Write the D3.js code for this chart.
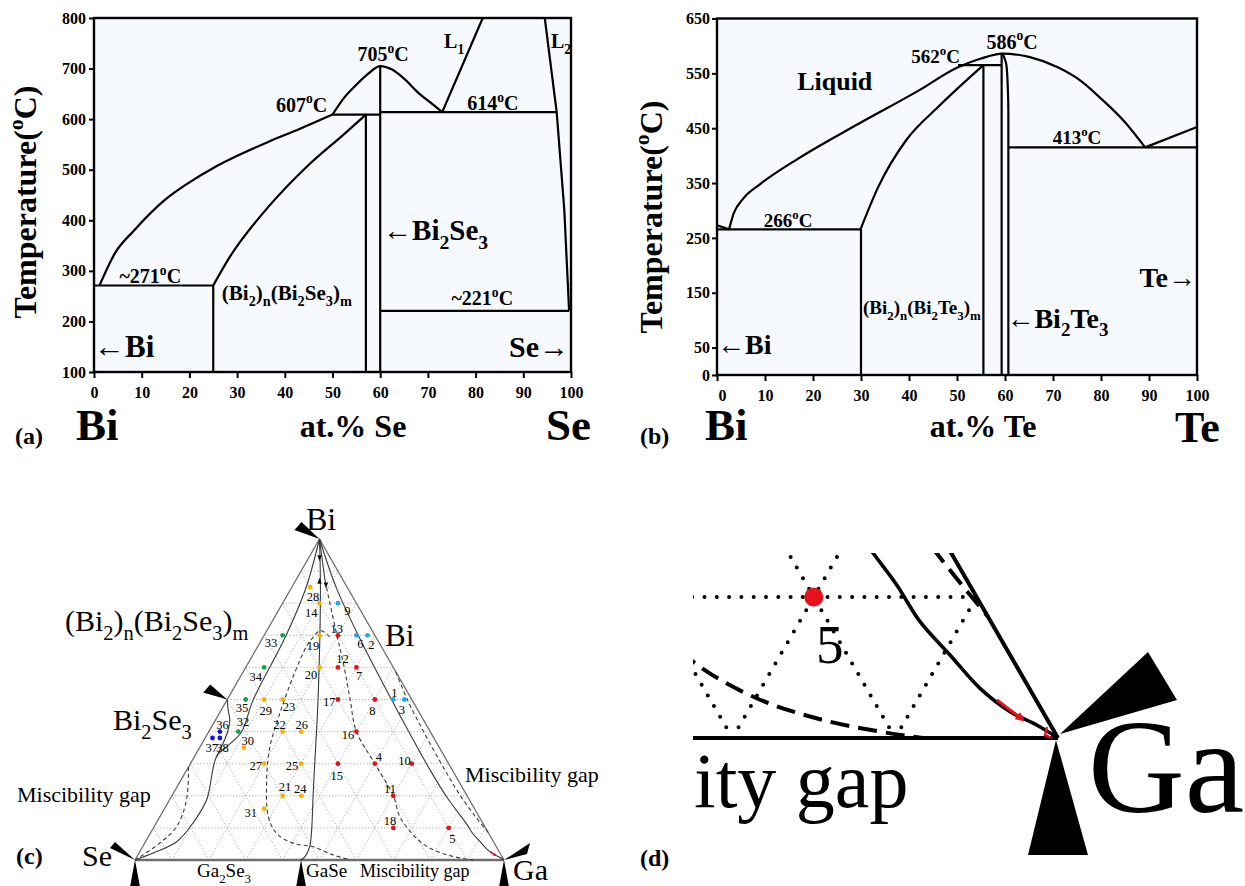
<!DOCTYPE html>
<html lang="en">
<head>
<meta charset="UTF-8">
<title>Bi–Se, Bi–Te phase diagrams and Bi–Se–Ga ternary</title>
<script src="https://d3js.org/d3.v7.min.js"></script>
<style>
  body { margin: 0; background: #fff; }
  svg text { font-family: "Liberation Serif", "Times New Roman", serif; fill: #000; }
</style>
</head>
<body>
<svg id="fig" width="1245" height="886"></svg>
<script>
// ---------- (a) Bi–Se binary: [at.% Se, T °C] ----------
const compTicks = d3.range(0, 101, 10);
const tempTicksA = [100, 200, 300, 400, 500, 600, 700, 800];

const biSeLiquidus = [[1.2, 272], [4.4, 335], [8.4, 380], [14.8, 440], [20, 475], [25.3, 505], [30.6, 530], [36.5, 555], [43.2, 581], [50, 609]];
const biSeSolvus = [[25, 271], [28.5, 328], [36.5, 426], [44.5, 505], [52.5, 571], [57, 609]];
const biSeDome = [[50, 609], [52.5, 643], [55, 668], [57.5, 690], [60, 705], [62.5, 698], [65, 680], [68, 652], [70.5, 633], [73, 614]];
const biSeL1 = [[73, 614], [81.5, 800]];
const biSeL2 = [[94.5, 800], [97, 614], [98.6, 420], [99.6, 221]];
const biSeLines = [
  [[0, 271], [25, 271]],
  [[25, 100], [25, 271]],
  [[57, 100], [57, 609]],
  [[60, 100], [60, 705]],
  [[50, 609], [60, 609]],
  [[60, 614], [97, 614]],
  [[60, 221], [99.6, 221]]
];

// ---------- (b) Bi–Te binary: [at.% Te, T °C] ----------
const tempTicksB = [0, 50, 150, 250, 350, 450, 550, 650];

const biTeLiquidus = [[2.5, 265.5], [3.5, 295], [5.5, 322], [9, 348], [17, 395], [29.5, 458], [41.9, 518], [50.2, 561],
  [55, 577], [59.5, 586], [65, 580], [71, 561], [76, 535], [80, 504], [85, 461], [89.2, 415]];
const biTeLiquidusTe = [[89.2, 415], [100, 452]];
const biTeLiquidusBi = [[0, 273], [2.5, 265.5]];
const biTeSolvus = [[29.9, 265.5], [33.6, 343], [39.4, 428], [46.1, 489], [55.5, 565]];
const bi2Te3Right = [[59.5, 586], [60.3, 565], [60.6, 520], [60.7, 480], [60.7, 0]];
const biTeLines = [
  [[0, 265.5], [30, 265.5]],
  [[30, 0], [30, 265.5]],
  [[55.5, 0], [55.5, 565]],
  [[50.2, 565], [59.3, 565]],
  [[59.3, 0], [59.3, 586]],
  [[60.7, 415], [100, 415]]
];

// ---------- (c)/(d) Bi–Se–Ga ternary: [Bi, Se, Ga] at.% ----------
const sampleIds = ["1", "2", "3", "4", "5", "6", "7", "8", "9", "10", "11", "12", "13", "14", "15", "16", "17", "18", "19",
  "20", "21", "22", "23", "24", "25", "26", "27", "28", "29", "30", "31", "32", "33", "34", "35", "36", "37", "38"];
const sampleComp = [
  [50, 5, 45], [70, 2, 28], [50, 2, 48], [30, 20, 50], [10, 10, 80], [70, 5, 25], [60, 10, 30], [50, 10, 40], [80, 5, 15], [30, 10, 60],
  [20, 20, 60], [60, 15, 25], [70, 10, 20], [80, 10, 10], [30, 30, 40], [40, 20, 40], [50, 20, 30], [10, 25, 65], [70, 15, 15], [60, 20, 20],
  [20, 50, 30], [40, 40, 20], [50, 35, 15], [20, 45, 35], [30, 40, 30], [40, 35, 25], [30, 50, 20], [85, 10, 5], [50, 40, 10], [35, 53, 12],
  [16, 57, 27], [40, 52, 8], [70, 25, 5], [60, 35, 5], [50, 45, 5], [40, 57, 3], [38, 60, 2], [38, 58, 4]
];
const sampleGroup = ["cyan", "cyan", "cyan", "red", "red", "cyan", "red", "red", "cyan", "red",
  "red", "red", "red", "orange", "red", "red", "red", "red", "orange", "orange",
  "orange", "orange", "orange", "orange", "orange", "orange", "orange", "orange", "orange", "orange",
  "orange", "green", "green", "green", "green", "blue", "blue", "blue"];

const centralSolid = [[100, 0, 0], [84.1, 7.7, 8.2], [49.8, 25.5, 24.7], [29.8, 36.4, 33.8], [19.7, 41.9, 38.4],
  [9.35, 47.45, 43.2], [4.14, 50.6, 45.26], [1.03, 53.4, 45.57], [0, 55.1, 44.9]];
const leftBoundary = [[100, 0, 0], [84.5, 11.5, 4], [69.6, 24.4, 6], [49.8, 43.1, 7.1], [39.9, 51.2, 8.9], [35.3, 57.5, 7.2], [32.2, 61.8, 6],
  [18.7, 71.25, 10.05], [11.5, 78.55, 9.95], [5.7, 85.85, 8.45], [2.18, 94, 3.82], [0, 100, 0]];
const bi2Se3Branch = [[50, 50, 0], [46.7, 51.4, 1.9], [43.6, 52.5, 3.9], [40.5, 54.5, 5], [36.35, 57.95, 5.7], [32.2, 61.8, 6]];
const seGapDashed = [[29, 71, 0], [18.7, 76.7, 4.6], [10.4, 83.5, 6.1], [5.3, 90.6, 4.1], [0, 100, 0]];
const midGapDashed = [[69.5, 12.5, 18], [71.5, 14, 14.5], [69, 17.5, 13.5], [66.45, 20.35, 13.2], [57.07, 28.63, 14.3],
  [45.7, 37.9, 16.4], [34.98, 46, 19.02], [23.9, 52.4, 23.7], [13.5, 57.1, 29.4], [8.3, 57.5, 34.2], [5.2, 54.5, 40.3],
  [4.1, 49.6, 46.3], [1.56, 45.5, 52.94], [0, 41.7, 58.3]];
const centralDashed = [[100, 0, 0], [87, 5, 8], [70.6, 10.1, 19.3], [60, 13.3, 26.7], [50, 16.7, 33.3], [40, 20, 40],
  [30, 20, 50], [20, 20, 60], [13.5, 21.5, 65], [9, 21, 70], [5.4, 19.7, 74.9], [2.82, 17.1, 80.08],
  [1.28, 13.8, 84.92], [0.33, 10.15, 89.52], [0, 8.3, 91.7]];
const gaSideSolid = [[100, 0, 0], [85, 3, 12], [70, 4.5, 25.5], [50, 5.5, 44.5], [28, 6, 66], [19.7, 5.7, 74.6],
  [13.1, 4.8, 82.1], [10.85, 4.48, 84.67], [8.25, 4.35, 87.4], [5.89, 3.69, 90.42], [3.52, 3.03, 93.45],
  [1.87, 2.01, 96.12], [0.92, 0.85, 98.23], [0, 0, 100]];
const gaSideDashed = [[58.6, 0, 41.4], [50, 1.2, 48.8], [40, 1.8, 58.2], [28, 2, 70], [20, 1.8, 78.2], [13.1, 0.9, 86], [8.6, 0, 91.4]];
const redArrow = [[2.7, 2.4, 94.9], [1.28, 1.51, 97.21]];
const redHook = [[0.78, 0.29, 98.93], [0.2, 0.7, 99.1], [0, 0.37, 99.63]];
const apexArrows = [[94, 3, 3, 1], [87, 6.5, 6.5, -1], [85.5, 5.5, 9, 1]];   // comp + direction
const vBi = [100, 0, 0], vSe = [0, 100, 0], vGa = [0, 0, 100], vBi2Se3 = [50, 50, 0], vGaSe = [0, 55, 45];
const gridLevels = d3.range(10, 100, 10);

const groupColor = { orange: "#f5b400", red: "#e8101a", cyan: "#1aa8ee", green: "#14a04a", blue: "#0a10f0" };

// ---------- helpers ----------
const svg = d3.select("#fig");
const defs = svg.append("defs");

// text with _x subscripts and ^x superscripts
function rich(g, str, x, y, size, anchor, weight) {
  const t = g.append("text")
    .attr("x", x).attr("y", y)
    .attr("font-size", size)
    .attr("font-weight", weight || "normal")
    .attr("text-anchor", anchor || "start");
  let shift = 0, m;
  const re = /([_^])(.)|([^_^]+)/g;
  while ((m = re.exec(str)) !== null) {
    if (m[3]) {
      t.append("tspan").attr("dy", -shift).text(m[3]);
      shift = 0;
    } else {
      const s = m[1] === "_" ? size * 0.3 : -size * 0.42;
      t.append("tspan").attr("dy", s - shift).attr("font-size", size * 0.68).text(m[2]);
      shift = s;
    }
  }
  return t;
}

function phaseAxes(g, x, y, yTicks, yPad, zeroShift) {
  const [x0, x1] = x.range(), [y0, y1] = y.range();
  const ax = g.append("g").attr("transform", `translate(0,${y0})`)
    .call(d3.axisBottom(x).tickValues(compTicks).tickSize(6).tickPadding(9).tickSizeOuter(0));
  const ay = g.append("g").attr("transform", `translate(${x0},0)`)
    .call(d3.axisLeft(y).tickValues(yTicks).tickSize(5).tickPadding(yPad).tickSizeOuter(0));
  [ax, ay].forEach(a => {
    a.attr("font-family", null).attr("font-size", 16).attr("font-weight", "bold");
    a.select(".domain").remove();
    a.selectAll(".tick line").attr("stroke-width", 2);
  });
  ax.selectAll(".tick text").filter(d => d === 0).attr("dx", zeroShift);
  g.append("rect").attr("x", x0).attr("y", y1).attr("width", x1 - x0).attr("height", y0 - y1)
    .attr("fill", "none").attr("stroke", "#000").attr("stroke-width", 2.4);
}

function phaseBg(g, x, y) {
  const [x0, x1] = x.range(), [y0, y1] = y.range();
  g.append("rect").attr("x", x0).attr("y", y1).attr("width", x1 - x0).attr("height", y0 - y1).attr("fill", "#f6f9fd");
}

const phaseStroke = sel => sel.attr("fill", "none").attr("stroke", "#000").attr("stroke-width", 2.2);

// ---------- panel (a) ----------
const xA = d3.scaleLinear().domain([0, 100]).range([94, 571]);
const yA = d3.scaleLinear().domain([100, 800]).range([372, 18]);
const gA = svg.append("g");
phaseBg(gA, xA, yA);
const lineA = d3.line().x(d => xA(d[0])).y(d => yA(d[1]));
const curveA = d3.line().x(d => xA(d[0])).y(d => yA(d[1])).curve(d3.curveMonotoneX);
[biSeLiquidus, biSeSolvus, biSeDome].forEach(c => gA.append("path").attr("d", curveA(c)).call(phaseStroke));
[biSeL1, biSeL2, ...biSeLines].forEach(c => gA.append("path").attr("d", lineA(c)).call(phaseStroke));
phaseAxes(gA, xA, yA, tempTicksA, 3, 0);

[["705^oC", 60.6, 714, "middle", 20], ["607^oC", 48.9, 615, "end", 20], ["614^oC", 83.6, 618, "middle", 20],
 ["L_1", 73.4, 741, "start", 20], ["L_2", 95.8, 741, "start", 20], ["~271^oC", 11.8, 276, "middle", 20],
 ["(Bi_2)_n(Bi_2Se_3)_m", 26.8, 242, "start", 21], ["~221^oC", 81.4, 232, "middle", 20],
 ["\u2190Bi_2Se_3", 60.6, 361, "start", 29], ["\u2190Bi", 0, 130, "start", 31], ["Se\u2192", 99.6, 130, "end", 30]]
  .forEach(([s, cx, ct, an, fs]) => rich(gA, s, xA(cx), yA(ct), fs, an, "bold"));

rich(gA, "Temperature(^oC)", 0, 0, 32, "middle", "bold").attr("transform", "translate(36,202) rotate(-90)");
rich(gA, "Bi", 76, 440, 45, "start", "bold");
rich(gA, "at.% Se", 353, 437, 32, "middle", "bold");
rich(gA, "Se", 546, 440, 45, "start", "bold");
rich(gA, "(a)", 15, 444, 24, "start", "bold");

// ---------- panel (b) ----------
const xB = d3.scaleLinear().domain([0, 100]).range([717, 1197]);
const yB = d3.scaleLinear().domain([0, 650]).range([375, 18.5]);
const gB = svg.append("g");
phaseBg(gB, xB, yB);
const lineB = d3.line().x(d => xB(d[0])).y(d => yB(d[1]));
const curveB = d3.line().x(d => xB(d[0])).y(d => yB(d[1])).curve(d3.curveMonotoneX);
const curveBy = d3.line().x(d => xB(d[0])).y(d => yB(d[1])).curve(d3.curveMonotoneY);
[biTeLiquidus, biTeSolvus].forEach(c => gB.append("path").attr("d", curveB(c)).call(phaseStroke));
gB.append("path").attr("d", curveBy(bi2Te3Right)).call(phaseStroke);
[biTeLiquidusTe, biTeLiquidusBi, ...biTeLines].forEach(c => gB.append("path").attr("d", lineB(c)).call(phaseStroke));
phaseAxes(gB, xB, yB, tempTicksB, 2, 5);

[["Liquid", 16.7, 519, "start", 26], ["562^oC", 50.6, 568, "end", 19], ["586^oC", 61.5, 595, "middle", 20],
 ["266^oC", 14.8, 270, "middle", 19], ["413^oC", 75, 421, "middle", 19],
 ["(Bi_2)_n(Bi_2Te_3)_m", 30.4, 111, "start", 19], ["\u2190Bi_2Te_3", 60.3, 86, "start", 28],
 ["Te\u2192", 99.8, 160, "end", 28], ["\u2190Bi", 0, 38, "start", 28]]
  .forEach(([s, cx, ct, an, fs]) => rich(gB, s, xB(cx), yB(ct), fs, an, "bold"));

rich(gB, "Temperature(^oC)", 0, 0, 32, "middle", "bold").attr("transform", "translate(662,217) rotate(-90)");
rich(gB, "Bi", 705, 440, 45, "start", "bold");
rich(gB, "at.% Te", 983, 437, 32, "middle", "bold");
rich(gB, "Te", 1175, 442, 44, "start", "bold");
rich(gB, "(b)", 640, 444, 24, "start", "bold");

// ---------- ternary drawing ----------
const ternXY = (sx, sy) => c => [sx(c[2] + c[0] / 2), sy(c[0])];

function gridSegments() {
  const segs = [];
  gridLevels.forEach(k => {
    segs.push([[k, 100 - k, 0], [k, 0, 100 - k]]);
    segs.push([[0, k, 100 - k], [100 - k, k, 0]]);
    segs.push([[0, 100 - k, k], [100 - k, 0, k]]);
  });
  return segs;
}

function drawTernary(g, sx, sy, st) {
  const P = ternXY(sx, sy);
  const straight = d3.line().x(c => P(c)[0]).y(c => P(c)[1]);
  const smooth = d3.line().x(c => P(c)[0]).y(c => P(c)[1]).curve(d3.curveCatmullRom.alpha(0.5));
  gridSegments().forEach(s => g.append("path").attr("d", straight(s))
    .attr("stroke", st.grid).attr("stroke-width", st.gridW).attr("stroke-dasharray", st.gridDash)
    .attr("stroke-linecap", st.gridCap).attr("fill", "none"));
  g.append("path").attr("d", straight([vSe, vGa])).attr("stroke", st.edge).attr("stroke-width", st.baseW).attr("fill", "none");
  g.append("path").attr("d", straight([vSe, vBi, vGa])).attr("stroke", st.edge).attr("stroke-width", st.edgeW)
    .attr("stroke-linejoin", "round").attr("fill", "none");
  [centralSolid, leftBoundary, bi2Se3Branch, gaSideSolid, centralDashed.slice(0, 2)].forEach(c =>
    g.append("path").attr("d", smooth(c)).attr("stroke", st.line).attr("stroke-width", st.lineW).attr("fill", "none"));
  [seGapDashed, midGapDashed, centralDashed.slice(1), gaSideDashed].forEach(c =>
    g.append("path").attr("d", smooth(c)).attr("stroke", st.line).attr("stroke-width", st.dashW)
      .attr("stroke-dasharray", st.dash).attr("fill", "none"));
  g.append("path").attr("d", straight(redArrow)).attr("stroke", "#e8101a").attr("stroke-width", st.redW)
    .attr("fill", "none").attr("marker-end", "url(#redHead)");
  g.append("path").attr("d", straight(redHook)).attr("stroke", "#e8101a").attr("stroke-width", st.redW * 0.8).attr("fill", "none");
  return P;
}

defs.append("marker").attr("id", "redHead").attr("viewBox", "0 0 10 10").attr("refX", 8).attr("refY", 5)
  .attr("markerWidth", 3).attr("markerHeight", 3).attr("orient", "auto")
  .append("path").attr("d", "M0,0L10,5L0,10z").attr("fill", "#e8101a");

// ---------- panel (c) ----------
const cx = d3.scaleLinear().domain([0, 100]).range([135, 504]);
const cy = d3.scaleLinear().domain([0, 100]).range([860, 539]);
const gC = svg.append("g");
const PC = drawTernary(gC, cx, cy, {
  grid: "#9a9a9a", gridW: 0.8, gridDash: "1.2 2", gridCap: "butt", edge: "#6e6e6e", edgeW: 1.3, baseW: 2.6,
  line: "#3a3a3a", lineW: 1.1, dashW: 1.1, dash: "4 3", redW: 1.2
});

apexArrows.forEach(a => {
  const [px, py] = PC(a);
  gC.append("path").attr("d", `M${px - 2.2},${py - 3 * a[3]}L${px + 2.2},${py - 3 * a[3]}L${px},${py + 3 * a[3]}Z`).attr("fill", "#111");
});

const labelOff = {
  "1": [1, -6.7], "2": [4, 9], "3": [-2.4, 10], "4": [4, -6.6], "5": [3.6, 10.7], "6": [4, 8.7], "7": [2.6, 8.4],
  "8": [-2.4, 10.7], "9": [9.3, 7.4], "10": [-7.3, -2.6], "11": [-3.3, -6.7], "12": [4.6, -8.3], "13": [-1.3, -7],
  "14": [-8.3, 9], "15": [-1.3, 11.7], "16": [-8.4, 2.7], "17": [-8.7, 1.7], "18": [-3.3, -7.6], "19": [-6.6, 10],
  "20": [-8.6, 7.7], "21": [2.3, -9.4], "22": [-3, -7.3], "23": [6.3, 6.7], "24": [-0.7, -7.4], "25": [-9, 2.4],
  "26": [0.7, -7.3], "27": [-8.3, 2.4], "28": [2.7, 9.4], "29": [1.7, 10.7], "30": [4, -6.6], "31": [-13.3, 4],
  "32": [4.6, -10], "33": [-11.7, 7.4], "34": [-8.3, 9], "35": [-3.6, 8.3], "36": [2.7, -6.6], "37": [-0.7, 9.3], "38": [2.6, 9.3]
};

sampleComp.forEach((c, i) => {
  const [px, py] = PC(c);
  gC.append("circle").attr("cx", px).attr("cy", py).attr("r", 2.4).attr("fill", groupColor[sampleGroup[i]]);
  const o = labelOff[sampleIds[i]];
  gC.append("text").attr("x", px + o[0]).attr("y", py + o[1] + 4.3).attr("font-size", 12.5)
    .attr("text-anchor", "middle").attr("fill", "#222").text(sampleIds[i]);
});

// vertex wedges
const wedge = (g, tip, a, b) => g.append("path")
  .attr("d", `M${tip[0]},${tip[1]}L${tip[0] + a[0]},${tip[1] + a[1]}L${tip[0] + b[0]},${tip[1] + b[1]}Z`).attr("fill", "#000");
wedge(gC, PC(vBi), [-25, -9], [-18, -17]);
wedge(gC, PC(vBi2Se3), [-24, -7], [-17, -15]);
wedge(gC, PC(vSe), [-25, -12], [-20, -18]);
wedge(gC, PC(vGa), [26, -17], [23, -6]);
[vSe, vGaSe, vGa].forEach(v => wedge(gC, PC(v), [-5, 27], [5, 27]));

[["Bi", 306, 530, 32], ["Bi", 385, 646, 31], ["(Bi_2)_n(Bi_2Se_3)_m", 65, 631, 30], ["Bi_2Se_3", 113, 730, 30],
 ["Miscibility gap", 17, 802, 22], ["Miscibility gap", 465, 782, 22], ["Se", 82, 866, 30], ["Ga", 513, 880, 30],
 ["Ga_2Se_3", 197, 877, 19], ["GaSe", 306, 877, 19], ["Miscibility gap", 360, 877, 18]]
  .forEach(([s, x, y, fs]) => rich(gC, s, x, y, fs, "start", "normal").attr("fill", "#111"));
rich(gC, "(c)", 16, 864, 24, "start", "bold");

// ---------- panel (d): close-up of the Ga corner ----------
const zoomK = 1628 / 369;
const dxS = d3.scaleLinear().domain([0, 100]).range([1058 - 1628, 1058]);
const dyS = d3.scaleLinear().domain([0, 100]).range([738, 738 - 1410]);
defs.append("clipPath").attr("id", "clipD").append("rect").attr("x", 693).attr("y", 553).attr("width", 552).attr("height", 333);
const gD = svg.append("g").attr("clip-path", "url(#clipD)");
const PD = drawTernary(gD, dxS, dyS, {
  grid: "#000", gridW: 4, gridDash: "0 12.3", gridCap: "round", edge: "#000", edgeW: 4, baseW: 4,
  line: "#000", lineW: 3.6, dashW: 4, dash: "19 9", redW: 3
});
const i5 = sampleIds.indexOf("5");
const p5 = PD(sampleComp[i5]);
gD.append("circle").attr("cx", p5[0]).attr("cy", p5[1]).attr("r", 9.5).attr("fill", groupColor[sampleGroup[i5]]);
gD.append("text").attr("x", p5[0] + labelOff["5"][0] * zoomK).attr("y", p5[1] + labelOff["5"][1] * zoomK + 19)
  .attr("font-size", 55).attr("text-anchor", "middle").text("5");

const gD2 = svg.append("g");
const gaD = PD(vGa);
wedge(gD2, [gaD[0] + 2, gaD[1] - 4], [88, -82], [117, -34]);
wedge(gD2, [gaD[0] - 2, gaD[1] + 2], [-28, 115], [32, 115]);
rich(gD2, "Ga", 1088, 812, 134, "start", "normal");
rich(gD2, "ity gap", 694, 807, 78, "start", "normal");
rich(gD2, "(d)", 640, 866, 24, "start", "bold");
</script>
</body>
</html>
